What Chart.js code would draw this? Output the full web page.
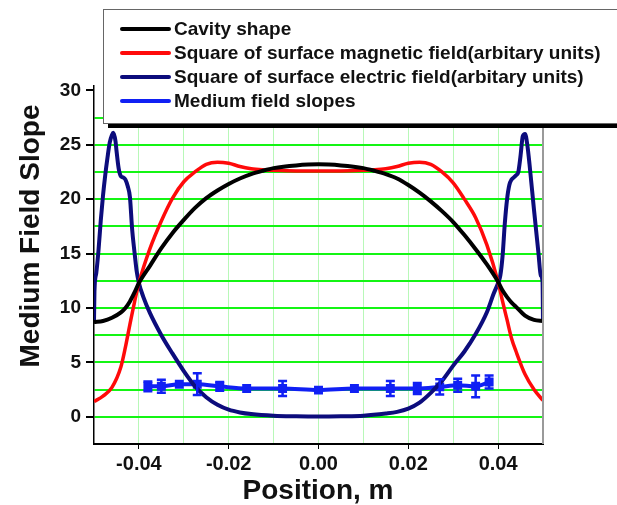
<!DOCTYPE html>
<html>
<head>
<meta charset="utf-8">
<script src="https://cdn.jsdelivr.net/npm/chart.js@4/dist/chart.umd.min.js"></script>
<style>
  html, body { margin: 0; padding: 0; background: #fff; }
  #wrap { width: 617px; height: 505px; }
</style>
</head>
<body>
<div id="wrap"><canvas id="chart" width="617" height="505"></canvas></div>
<script>
// cavity profile and the two surface field curves share one position grid
const posA = [-0.05, -0.048, -0.046, -0.044, -0.043, -0.042, -0.041, -0.04, -0.0375, -0.035, -0.0325, -0.03,
  -0.0275, -0.025, -0.0225, -0.02, -0.0175, -0.015, -0.0125, -0.01, -0.005, 0,
  0.005, 0.01, 0.0125, 0.015, 0.0175, 0.02, 0.0225, 0.025, 0.0275, 0.03, 0.0325,
  0.035, 0.0375, 0.04, 0.041, 0.042, 0.043, 0.044, 0.046, 0.048, 0.05];

const cavityShape = [8.7, 8.8, 9.1, 9.6, 10.0, 10.6, 11.4, 12.3, 13.9, 15.5, 16.9, 18.1,
  19.2, 20.1, 20.8, 21.4, 21.9, 22.3, 22.6, 22.85, 23.1, 23.2,
  23.1, 22.85, 22.6, 22.3, 21.9, 21.3, 20.6, 19.8, 18.9, 17.9, 16.7,
  15.4, 14.0, 12.4, 11.6, 11.0, 10.5, 10.1, 9.3, 8.9, 8.8];

const magneticSq = [1.4, 1.9, 2.7, 4.6, 6.4, 8.5, 10.5, 12.3, 15.5, 18.0, 20.1, 21.6,
  22.5, 23.2, 23.4, 23.3, 23.0, 22.8, 22.7, 22.65, 22.6, 22.6,
  22.6, 22.65, 22.7, 22.8, 23.0, 23.3, 23.4, 23.2, 22.5, 21.5, 20.0,
  18.3, 15.8, 12.4, 10.6, 8.9, 7.2, 6.0, 3.9, 2.5, 1.5];

// electric field curve needs a finer grid near the end peaks
const posE = [-0.05, -0.0499, -0.0495, -0.049, -0.0485, -0.048, -0.0475, -0.047, -0.0465, -0.046, -0.0457,
  -0.0452, -0.045, -0.0445, -0.044, -0.0435, -0.043, -0.0425, -0.042, -0.0415, -0.041, -0.0405, -0.04,
  -0.039, -0.0375, -0.035, -0.0325, -0.03, -0.0275, -0.025, -0.0225, -0.02, -0.0175, -0.015, -0.01,
  -0.005, 0, 0.005, 0.01, 0.015, 0.0175, 0.02, 0.0225, 0.025, 0.0275, 0.03, 0.0325, 0.035, 0.0375,
  0.039, 0.04, 0.0405, 0.041, 0.0415, 0.042, 0.0425, 0.043, 0.0435, 0.044, 0.0445, 0.045, 0.0455,
  0.046, 0.0465, 0.047, 0.048, 0.049, 0.0495, 0.0499, 0.05];

const electricSq = [8.8, 11.5, 13.2, 15.3, 18.0, 20.3, 22.2, 23.8, 25.2, 25.9, 26.1,
  25.3, 24.5, 22.8, 22.1, 22.0, 21.8, 21.2, 20.2, 17.2, 15.2, 13.4, 12.3,
  11.0, 9.5, 7.5, 5.8, 4.2, 2.8, 1.8, 1.1, 0.65, 0.4, 0.25, 0.1,
  0.05, 0.03, 0.05, 0.1, 0.3, 0.45, 0.75, 1.3, 2.2, 3.3, 4.7, 6.0, 7.6, 9.6,
  11.3, 12.3, 13.0, 14.8, 17.8, 20.0, 21.3, 21.8, 22.0, 22.2, 22.5, 24.0, 25.8,
  26.0, 25.0, 23.2, 19.0, 15.0, 13.0, 12.4, 8.8];

// measured medium field slopes with their error half-widths
const slopePos = [-0.038, -0.035, -0.031, -0.027, -0.022, -0.016, -0.008, 0, 0.008, 0.016, 0.022, 0.027, 0.031, 0.035, 0.038];
const slopeVal = [2.8, 2.8, 3.0, 3.0, 2.8, 2.6, 2.6, 2.45, 2.6, 2.6, 2.6, 2.75, 2.9, 2.8, 3.2];
const slopeErr = [0.45, 0.6, 0, 1.0, 0.4, 0, 0.7, 0, 0, 0.7, 0.5, 0.7, 0.6, 1.0, 0.6];

const legendLabels = ['Cavity shape', 'Square of surface magnetic field(arbitary units)',
  'Square of surface electric field(arbitary units)', 'Medium field slopes'];
const lineColors = ['#000000', '#ff0a0a', '#0c0c7c', '#1020f4'];

const FONT = 'Liberation Sans, Arial, sans-serif';

const pts = (xs, ys) => xs.map((x, i) => ({ x: x, y: ys[i] }));

// vertical error bars with caps on the slope series
const errorBars = {
  id: 'errorBars',
  afterDatasetsDraw(chart) {
    const { ctx, scales: { x, y } } = chart;
    ctx.save();
    ctx.strokeStyle = lineColors[3];
    ctx.lineWidth = 2.5;
    slopePos.forEach((p, i) => {
      const e = slopeErr[i];
      if (!e) return;
      const px = x.getPixelForValue(p);
      const y1 = y.getPixelForValue(slopeVal[i] + e);
      const y2 = y.getPixelForValue(slopeVal[i] - e);
      ctx.beginPath();
      ctx.moveTo(px, y1); ctx.lineTo(px, y2);
      ctx.moveTo(px - 4.5, y1); ctx.lineTo(px + 4.5, y1);
      ctx.moveTo(px - 4.5, y2); ctx.lineTo(px + 4.5, y2);
      ctx.stroke();
    });
    ctx.restore();
  }
};

// frame on the right, axis titles and the boxed legend with its shadow
const decorations = {
  id: 'decorations',
  afterDraw(chart) {
    const { ctx, chartArea: a } = chart;
    ctx.save();
    ctx.strokeStyle = '#9a9a9a';
    ctx.lineWidth = 2;
    ctx.beginPath();
    ctx.moveTo(a.right, a.top); ctx.lineTo(a.right, a.bottom);
    ctx.stroke();

    ctx.fillStyle = '#111';
    ctx.font = 'bold 28px ' + FONT;
    ctx.textAlign = 'center';
    ctx.textBaseline = 'middle';
    ctx.fillText('Position, m', 318, 491);
    ctx.save();
    ctx.translate(31, 236);
    ctx.rotate(-Math.PI / 2);
    ctx.fillText('Medium Field Slope', 0, 0);
    ctx.restore();

    // legend box
    ctx.fillStyle = '#000';
    ctx.fillRect(108, 14, 520, 114);
    ctx.fillStyle = '#fff';
    ctx.fillRect(103, 9, 530, 114);
    ctx.strokeStyle = '#666';
    ctx.lineWidth = 1;
    ctx.strokeRect(103.5, 9.5, 530, 114);

    ctx.font = 'bold 19px ' + FONT;
    ctx.textAlign = 'left';
    legendLabels.forEach((t, i) => {
      const yy = 29 + i * 24;
      ctx.strokeStyle = lineColors[i];
      ctx.lineWidth = 4;
      ctx.lineCap = 'round';
      ctx.beginPath();
      ctx.moveTo(122, yy); ctx.lineTo(169, yy);
      ctx.stroke();
      ctx.fillStyle = '#111';
      ctx.fillText(t, 174, yy + 1);
    });
    ctx.restore();
  }
};

const isMajorY = v => Math.abs(v % 5) < 1e-6;
const isLabelX = v => Math.abs(v) < 0.045 && Math.round(v * 100) % 2 === 0;

new Chart(document.getElementById('chart'), {
  type: 'line',
  data: {
    datasets: [
      { data: pts(posA, cavityShape), borderColor: lineColors[0], borderWidth: 4, pointRadius: 0, cubicInterpolationMode: 'monotone' },
      { data: pts(posA, magneticSq), borderColor: lineColors[1], borderWidth: 3.5, pointRadius: 0, cubicInterpolationMode: 'monotone' },
      { data: pts(posE, electricSq), borderColor: lineColors[2], borderWidth: 4, pointRadius: 0, cubicInterpolationMode: 'monotone' },
      { data: pts(slopePos, slopeVal), borderColor: lineColors[3], backgroundColor: lineColors[3], borderWidth: 4,
        pointStyle: 'rect', pointRadius: 3.5, cubicInterpolationMode: 'monotone' }
    ]
  },
  options: {
    responsive: false,
    animation: false,
    layout: { padding: { top: 86, right: 74, left: 0, bottom: 0 } },
    plugins: { legend: { display: false }, tooltip: { enabled: false } },
    scales: {
      x: {
        type: 'linear',
        min: -0.05,
        max: 0.05,
        afterFit: s => { s.height = 61; },
        border: { color: '#000', width: 2 },
        grid: {
          color: c => (Math.abs(c.tick.value) < 0.045 ? '#b8f8b8' : 'rgba(0,0,0,0)'),
          lineWidth: 1,
          tickLength: 5,
          tickColor: c => (isLabelX(c.tick.value) ? '#000' : 'rgba(0,0,0,0)')
        },
        ticks: {
          stepSize: 0.01,
          maxRotation: 0,
          autoSkip: false,
          padding: 3,
          color: '#111',
          font: { family: FONT, size: 20, weight: 'bold' },
          callback: v => (isLabelX(v) ? v.toFixed(2) : '')
        }
      },
      y: {
        min: -2.5,
        max: 30.4,
        afterFit: s => { s.width = 94; },
        border: { color: '#000', width: 1.5 },
        grid: {
          color: c => (c.tick.value > -0.1 && c.tick.value < 29 ? '#14f514' : 'rgba(0,0,0,0)'),
          lineWidth: 2,
          tickLength: 8,
          tickColor: c => (isMajorY(c.tick.value) ? '#000' : 'rgba(0,0,0,0)')
        },
        ticks: {
          stepSize: 2.5,
          includeBounds: false,
          autoSkip: false,
          padding: 5,
          color: '#111',
          font: { family: FONT, size: 19, weight: 'bold' },
          callback: v => (isMajorY(v) ? String(v) : '')
        }
      }
    }
  },
  plugins: [errorBars, decorations]
});
</script>
</body>
</html>
